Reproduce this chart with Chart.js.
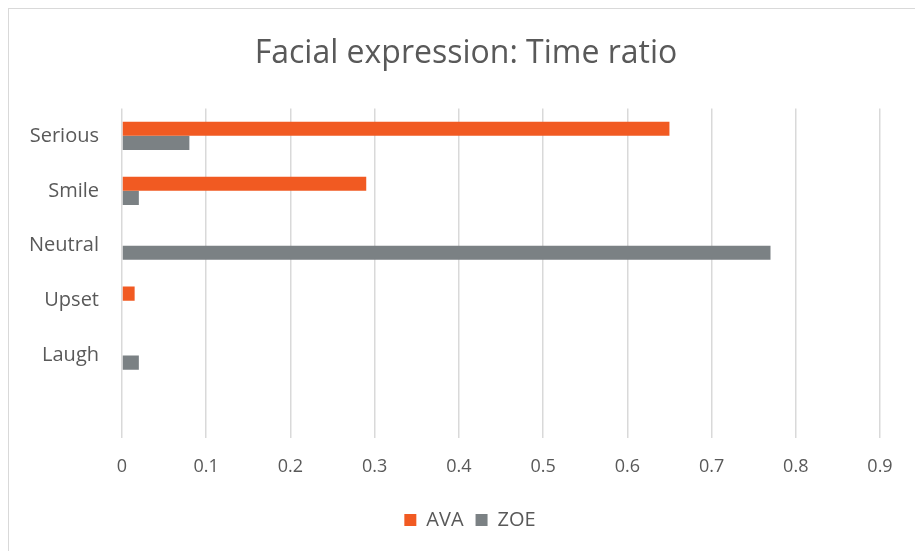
<!DOCTYPE html>
<html>
<head>
<meta charset="utf-8">
<script src="https://cdn.jsdelivr.net/npm/chart.js@4/dist/chart.umd.min.js"></script>
<style>
  html, body { margin: 0; padding: 0; background: #ffffff; }
  #wrap { position: relative; width: 915px; height: 551px; overflow: hidden; }
  #frame { position: absolute; left: 8px; top: 8px; width: 1200px; height: 1200px; border: 1px solid #d9d9d9; box-sizing: border-box; pointer-events: none; }
  canvas { position: absolute; left: 0; top: 0; }
</style>
</head>
<body>
<div id="wrap">
  <canvas id="c" width="915" height="551"></canvas>
  <div id="frame"></div>
</div>
<script>
const categories = ['Serious', 'Smile', 'Neutral', 'Upset', 'Laugh', ''];
const avaValues = [0.65, 0.29, 0, 0.015, 0, null];
const zoeValues = [0.08, 0.02, 0.77, 0, 0.02, null];
const seriesNames = ['AVA', 'ZOE'];
const xMin = 0, xMax = 0.9, xStep = 0.1;
const chartTitle = 'Facial expression: Time ratio';

const FONT = '"Open Sans", Lato, sans-serif';
const TXT = '#595959';

const shiftBlocks = {
  id: 'shiftBlocks',
  afterLayout(chart) {
    const lg = chart.legend;
    if (lg) { lg.left += 30; lg.right += 30; }
    const tb = chart.titleBlock;
    if (tb) { tb.left += 26; tb.right += 26; }
  }
};

new Chart(document.getElementById('c'), {
  type: 'bar',
  data: {
    labels: categories,
    datasets: [
      { label: seriesNames[0], data: avaValues, backgroundColor: '#F15A22', borderWidth: 0 },
      { label: seriesNames[1], data: zoeValues, backgroundColor: '#7B8184', borderWidth: 0 }
    ]
  },
  plugins: [shiftBlocks],
  options: {
    indexAxis: 'y',
    responsive: false,
    animation: false,
    events: [],
    layout: { padding: { left: 0, right: 35, top: 0, bottom: 11 } },
    datasets: { bar: { categoryPercentage: 0.514, barPercentage: 1.0 } },
    plugins: {
      title: {
        display: true,
        text: chartTitle,
        color: TXT,
        font: { family: FONT, size: 32, weight: 'normal' },
        padding: { top: 35, bottom: 35 }
      },
      legend: {
        display: true,
        position: 'bottom',
        labels: {
          color: TXT,
          font: { family: FONT, size: 20 },
          boxWidth: 12,
          boxHeight: 12,
          padding: 12
        }
      },
      tooltip: { enabled: false }
    },
    scales: {
      x: {
        min: xMin,
        max: xMax,
        grid: { color: '#d9d9d9', lineWidth: 1.5, drawTicks: false },
        border: { display: false },
        ticks: {
          stepSize: xStep,
          color: TXT,
          font: { family: FONT, size: 18 },
          padding: 18,
          callback: (v) => String(Number(v.toFixed(1)))
        },
        afterFit: (s) => { s.height = 60; }
      },
      y: {
        grid: { display: false, drawTicks: false },
        border: { display: false },
        ticks: {
          color: TXT,
          font: { family: FONT, size: 20 },
          padding: 23
        },
        afterFit: (s) => { s.width = 122; }
      }
    }
  }
});
</script>
</body>
</html>
